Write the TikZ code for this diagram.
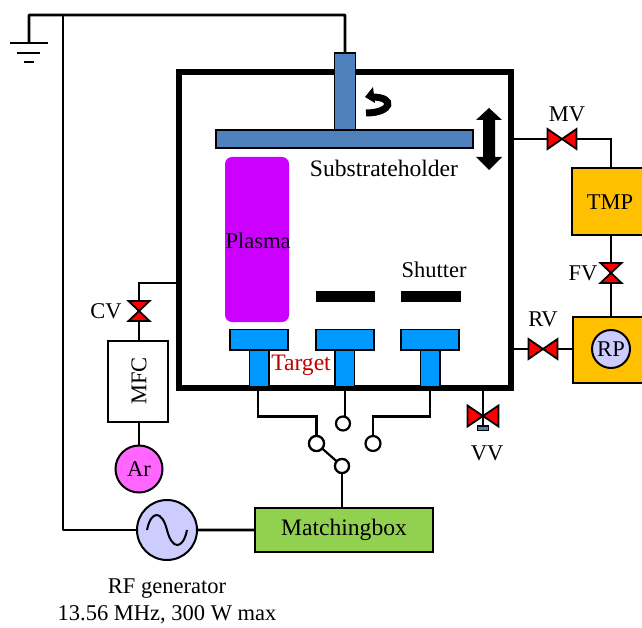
\documentclass[tikz,border=0pt]{standalone}
\usepackage{fontspec}
\setmainfont{Liberation Serif}
\begin{document}
\begin{tikzpicture}[x=1bp,y=-1bp,outer sep=0pt,
  wire/.style={line width=2.2bp,draw=black},
  thinbox/.style={draw=black,line width=2bp,inner sep=0pt,minimum width=0pt},
  valvefill/.style={fill=red,draw=black,line width=1.8bp,line join=miter},
  blue1/.style={fill=holderblue,draw=black,line width=1.6bp},
  blue2/.style={fill=targetblue,draw=black,line width=1.6bp},
  lab/.style={font=\fontsize{22.5bp}{24bp}\selectfont,inner sep=0pt},
  labw/.style={font=\fontsize{23.6bp}{24bp}\selectfont,inner sep=0pt},
  conn/.style={circle,draw=black,line width=2.2bp,fill=white,inner sep=0pt},
  circ/.style={circle,draw=black,line width=2bp,inner sep=0pt}]
\definecolor{holderblue}{HTML}{4F81BD}
\definecolor{targetblue}{HTML}{0099FF}
\definecolor{pumpor}{HTML}{FFC000}
\definecolor{lav}{HTML}{CCCCFF}
\definecolor{mbox}{HTML}{92D050}
\definecolor{argon}{HTML}{FF66FF}
\definecolor{plasmac}{HTML}{CC00FF}
\definecolor{targetred}{HTML}{C00000}
\useasboundingbox (0,0) rectangle (642,628);
\fill[white] (0,0) rectangle (642,628);

% chamber
\node[draw=black,line width=6bp,inner sep=0pt,anchor=north west,minimum width=332bp,minimum height=315.5bp] (chamber) at (179,72) {};

% coordinates
\coordinate (topL) at (29,15);
\coordinate (topM) at (63,15);
\coordinate (topR) at (345,15);
\coordinate (gnd) at (29,43);

% nodes
\node[blue1,anchor=north west,minimum width=21bp,minimum height=77bp,inner sep=0pt] (post) at (334.5,53) {};
\node[blue1,anchor=north west,minimum width=257bp,minimum height=18bp,inner sep=0pt] (holder) at (216,130) {};
\node[labw] (subl) at (384,168) {Substrateholder};
\node[fill=plasmac,rounded corners=7bp,anchor=north west,minimum width=64bp,minimum height=165bp,inner sep=0pt] (plasma) at (225,157) {};
\node[lab] (plasmal) at (258,241) {Plasma};
\node[fill=black,anchor=north west,minimum width=59bp,minimum height=11bp,inner sep=0pt] (sh1) at (315.5,291) {};
\node[fill=black,anchor=north west,minimum width=60bp,minimum height=11bp,inner sep=0pt] (sh2) at (400.5,291) {};
\node[lab] (shl) at (434,270) {Shutter};

% stems & plates
\foreach \n/\sx/\px in {a/249.5/230,b/335/316,c/420.5/401}{
  \node[blue2,anchor=north west,minimum width=19.5bp,minimum height=37bp,inner sep=0pt] (stem\n) at (\sx,350) {};
  \node[blue2,anchor=north west,minimum width=58bp,minimum height=20.5bp,inner sep=0pt] (plate\n) at (\px,329.5) {};
}
\node[labw,text=targetred] (tl) at (301,365) {Target};

% top wiring / ground
\draw[wire,line width=2.6bp,line join=round] (gnd) -- (topL) -- (topR) -- (post.north);
\draw[wire,line width=2.6bp] (10,43) -- (48,43);
\draw[wire,line width=2.6bp] (17,53) -- (40,53);
\draw[wire,line width=2.6bp] (24,62) -- (34,62);

% rotation arrow
\draw[line width=7bp,line cap=butt] (372,97) .. controls (396,97) and (392,113) .. (366,113);
\fill (365,97) -- (373,87) -- (375,103) -- cycle;
% vertical double arrow
\fill (489,108) -- (502,120) -- (495,120) -- (495,157) -- (502,157) -- (489,170) -- (476,157) -- (483,157) -- (483,120) -- (476,120) -- cycle;

% pumps
\node[thinbox,fill=pumpor,anchor=north west,minimum width=80bp,minimum height=67bp] (tmp) at (572,168) {};
\node[lab] (tmpl) at (610,202) {TMP};
\node[thinbox,fill=pumpor,anchor=north west,minimum width=80bp,minimum height=66bp] (rpbox) at (573,317) {};
\node[circ,fill=lav,minimum size=38bp,lab] (rp) at (611,349) {RP};

% valves
\coordinate (mv) at (562,139);
\coordinate (rv) at (543,349);
\coordinate (fv) at (611,273);
\coordinate (cv) at (139,311);
\coordinate (vv) at (483,416);
\coordinate (mvc) at (611,139);
\draw[wire] (513,139) -- (mv) -- (mvc) -- (tmp.north -| mvc);
\draw[wire] (tmp.south -| fv) -- (fv) -- (rpbox.north -| fv);
\draw[wire] (513,349) -- (rv) -- (rpbox.west |- rv);
\foreach \c in {mv,rv}{
  \draw[valvefill] ([shift={(-14.5,-10)}]\c) -- ([shift={(14.5,10)}]\c) -- ([shift={(14.5,-10)}]\c) -- ([shift={(-14.5,10)}]\c) -- cycle;
}
\draw[valvefill] ([shift={(-10.5,-10)}]fv) -- ([shift={(10.5,10)}]fv) -- ([shift={(-10.5,10)}]fv) -- ([shift={(10.5,-10)}]fv) -- cycle;
\node[lab] (mvl) at (567,114) {MV};
\node[lab] (rvl) at (543,319) {RV};
\node[lab] (fvl) at (583,273) {FV};
\node[lab] (cvl) at (106,311) {CV};

% gas line
\node[thinbox,fill=white,anchor=north west,minimum width=60bp,minimum height=81bp] (mfc) at (108,340.5) {};
\node[lab,rotate=90] (mfcl) at (139,381) {MFC};
\node[circ,fill=argon,minimum size=47bp,lab] (ar) at (139,469) {Ar};
\draw[wire] (178,283) -- (139,283) -- (cv) -- (mfc.north -| cv);
\draw[wire] (mfc.south -| ar) -- (ar);
\draw[valvefill] ([shift={(-10.5,-10)}]cv) -- ([shift={(10.5,10)}]cv) -- ([shift={(-10.5,10)}]cv) -- ([shift={(10.5,-10)}]cv) -- cycle;

% vent valve
\node[fill=holderblue,draw=black,line width=1.2bp,anchor=north,minimum width=11bp,minimum height=4.5bp,inner sep=0pt] (vvb) at (483,426) {};
\draw[valvefill] ([shift={(-15.5,-10.5)}]vv) -- ([shift={(15.5,10.5)}]vv) -- ([shift={(15.5,-10.5)}]vv) -- ([shift={(-15.5,10.5)}]vv) -- cycle;
\draw[wire] (483,390) -- (vvb.north);
\node[lab] (vvl) at (487,453) {VV};

% switch
\node[conn,minimum size=15bp] (s1) at (316.5,443.5) {};
\node[conn,minimum size=14bp] (s2) at (343,423.5) {};
\node[conn,minimum size=15bp] (s3) at (373,443.5) {};
\node[conn,minimum size=14bp] (s4) at (342,466) {};
\draw[wire] (258,390) -- (258,416.5) -- (316.5,416.5) -- (s1.north);
\draw[wire] (345,390) -- (s2.north -| 345,0);
\draw[wire] (430,390) -- (430,416.5) -- (373,416.5) -- (s3.north);
\draw[wire] (s1) -- (s4);
\node[conn,minimum size=15bp] at (s1) {};
\node[conn,minimum size=14bp] at (s4) {};

% matching + generator
\node[thinbox,fill=mbox,anchor=north west,minimum width=178bp,minimum height=44bp,labw] (match) at (255,508) {Matchingbox};
\node[circ,fill=lav,minimum size=60bp] (gen) at (167,530) {};
\draw[wire] (s4) -- (match.north -| s4);
\draw[wire,line width=2.6bp,line join=round] (topM) -- (63,530) -- (gen.west);
\draw[wire,line width=2.6bp] (gen.east) -- (match.west);
\draw[line width=2bp] (147,530) .. controls (151,510) and (162,510) .. (167,530) .. controls (172,550) and (183,550) .. (187,530);
\node[lab] (genl1) at (167,589) {RF generator};
\node[lab] (genl2) at (167,615) {13.56 MHz, 300 W max};
\end{tikzpicture}
\end{document}
